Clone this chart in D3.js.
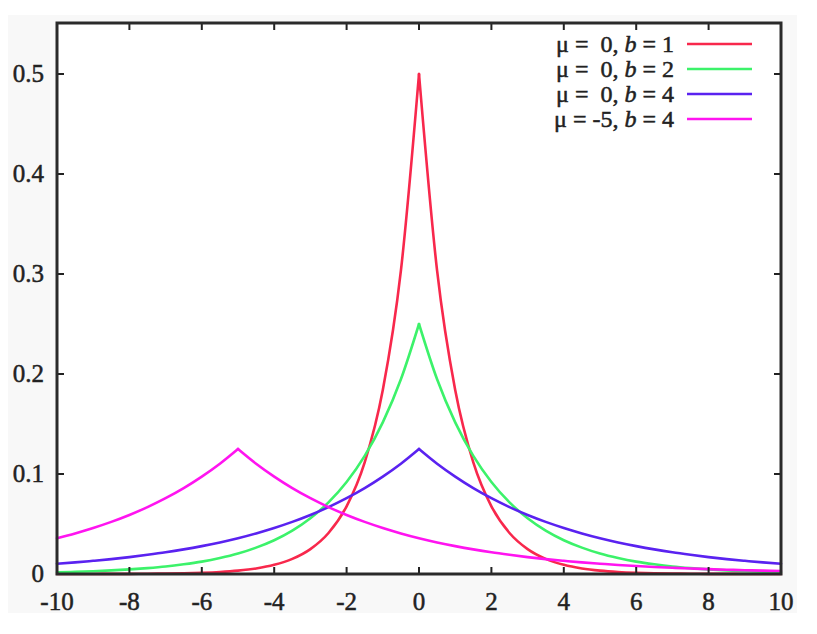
<!DOCTYPE html>
<html><head><meta charset="utf-8">
<script src="https://cdn.jsdelivr.net/npm/d3@7"></script>
<style>body{margin:0;background:#fff}svg{display:block}text{font-family:"Liberation Serif","Times New Roman",Times,serif;font-weight:normal;fill:#222;stroke:#222;stroke-width:0.5}</style>
</head><body><svg id="c" width="817" height="634"></svg>
<script>
const xs = [-10,-9.5,-9,-8.5,-8,-7.5,-7,-6.5,-6,-5.5,-5,-4.5,-4,-3.5,-3,-2.5,-2,-1.5,-1,-0.5,0,0.5,1,1.5,2,2.5,3,3.5,4,4.5,5,5.5,6,6.5,7,7.5,8,8.5,9,9.5,10];
const redVals = [0.00002,0.00004,0.00006,0.0001,0.00017,0.00028,0.00046,0.00075,0.00124,0.00204,0.00337,0.00555,0.00916,0.0151,0.0249,0.0410,0.0677,0.1116,0.1839,0.3033,0.5,0.3033,0.1839,0.1116,0.0677,0.0410,0.0249,0.0151,0.00916,0.00555,0.00337,0.00204,0.00124,0.00075,0.00046,0.00028,0.00017,0.0001,0.00006,0.00004,0.00002];
const greenVals = [0.0017,0.0022,0.0028,0.0036,0.0046,0.0059,0.0075,0.0097,0.0124,0.0160,0.0205,0.0264,0.0338,0.0434,0.0558,0.0716,0.0920,0.1181,0.1516,0.1947,0.25,0.1947,0.1516,0.1181,0.0920,0.0716,0.0558,0.0434,0.0338,0.0264,0.0205,0.0160,0.0124,0.0097,0.0075,0.0059,0.0046,0.0036,0.0028,0.0022,0.0017];
const blueVals = [0.0103,0.0116,0.0132,0.0149,0.0169,0.0192,0.0217,0.0246,0.0279,0.0316,0.0358,0.0406,0.0460,0.0521,0.0590,0.0669,0.0758,0.0859,0.0974,0.1103,0.125,0.1103,0.0974,0.0859,0.0758,0.0669,0.0590,0.0521,0.0460,0.0406,0.0358,0.0316,0.0279,0.0246,0.0217,0.0192,0.0169,0.0149,0.0132,0.0116,0.0103];
const magentaVals = [0.0358,0.0406,0.0460,0.0521,0.0590,0.0669,0.0758,0.0859,0.0974,0.1103,0.125,0.1103,0.0974,0.0859,0.0758,0.0669,0.0590,0.0521,0.0460,0.0406,0.0358,0.0316,0.0279,0.0246,0.0217,0.0192,0.0169,0.0149,0.0132,0.0116,0.0103,0.00906,0.00799,0.00705,0.00622,0.00549,0.00485,0.00428,0.00377,0.00333,0.00294];
const seriesMu = ["\u00a00","\u00a00","\u00a00","-5"];
const seriesB = ["1","2","4","4"];
const seriesColors = ["#f8284c","#3cf26a","#5a22f0","#ff14f0"];
const xTicks = [-10,-8,-6,-4,-2,0,2,4,6,8,10];
const yTicks = [0,0.1,0.2,0.3,0.4,0.5];
const allSeries = [redVals,greenVals,blueVals,magentaVals];

const svg = d3.select("#c");
const L=57,R=781,T=23,B=574;
svg.append("rect").attr("x",8).attr("y",15).attr("width",789).attr("height",598).attr("fill","#f8f8f8");
svg.append("rect").attr("x",L).attr("y",T).attr("width",R-L).attr("height",B-T).attr("fill","#fff");
const x = d3.scaleLinear().domain([-10,10]).range([L,R]);
const y = d3.scaleLinear().domain([0,0.551]).range([B,T]);

const g = svg.append("g");
allSeries.forEach((vals,i)=>{
  const pts = xs.map((xv,j)=>[xv,vals[j]]);
  let p = d3.maxIndex(vals);
  const line = d3.line().x(d=>x(d[0])).y(d=>y(d[1])).curve(d3.curveMonotoneX);
  [pts.slice(0,p+1), pts.slice(p)].forEach(part=>{
    if(part.length<2) return;
    g.append("path").attr("d",line(part)).attr("fill","none").attr("stroke",seriesColors[i])
     .attr("stroke-width",2.6).attr("stroke-linecap","round").attr("stroke-linejoin","round");
  });
});

const tk = svg.append("g").attr("stroke","#222").attr("stroke-width",2);
xTicks.forEach(t=>{
  tk.append("line").attr("x1",x(t)).attr("x2",x(t)).attr("y1",B).attr("y2",B-7);
  tk.append("line").attr("x1",x(t)).attr("x2",x(t)).attr("y1",T).attr("y2",T+7);
});
yTicks.forEach(t=>{
  tk.append("line").attr("x1",L).attr("x2",L+7).attr("y1",y(t)).attr("y2",y(t));
  tk.append("line").attr("x1",R).attr("x2",R-7).attr("y1",y(t)).attr("y2",y(t));
});
svg.append("rect").attr("x",L).attr("y",T).attr("width",R-L).attr("height",B-T)
  .attr("fill","none").attr("stroke","#2a2a2a").attr("stroke-width",3);

xTicks.forEach(t=>{
  svg.append("text").attr("x",x(t)).attr("y",610).attr("text-anchor","middle")
    .attr("font-size",25).text(t);
});
yTicks.forEach(t=>{
  svg.append("text").attr("x",44).attr("y",y(t)+8).attr("text-anchor","end")
    .attr("font-size",25).text(t);
});

const rowY=[44,69,94,119];
seriesB.forEach((bv,i)=>{
  const tx = svg.append("text").attr("x",674).attr("y",rowY[i]+8).attr("text-anchor","end").attr("font-size",24);
  tx.append("tspan").text("μ = "+seriesMu[i]+", ");
  tx.append("tspan").attr("font-style","italic").text("b");
  tx.append("tspan").text(" = "+bv);
  svg.append("line").attr("x1",687).attr("x2",752).attr("y1",rowY[i]).attr("y2",rowY[i])
    .attr("stroke",seriesColors[i]).attr("stroke-width",2.6);
});
</script></body></html>
